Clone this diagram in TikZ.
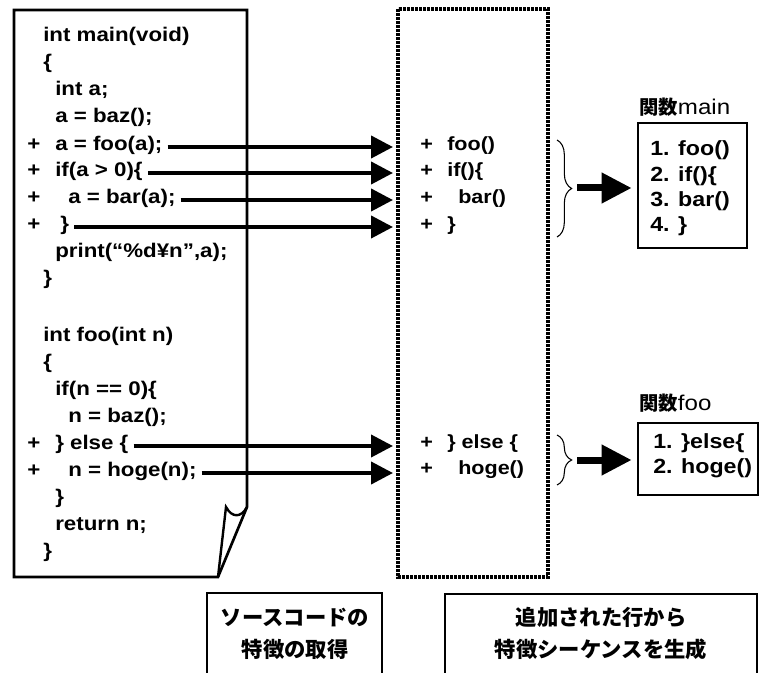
\documentclass[tikz,border=0pt]{standalone}
\usepackage{fontspec}
\setmainfont{Liberation Sans}
\newfontfamily\codefont{Liberation Sans}[FakeStretch=1.13]
\newfontfamily\cjk{Noto Sans CJK JP}
\usetikzlibrary{arrows.meta,decorations.pathreplacing}
\tikzset{
  code/.style={font={\codefont\bfseries\fontsize{14.8pt}{17pt}\selectfont}, anchor=west, inner sep=0pt, text height=0.72em, text depth=0.2em},
  mid/.style={font={\codefont\bfseries\fontsize{14.3pt}{17pt}\selectfont}, anchor=west, inner sep=0pt, text height=0.72em, text depth=0.2em},
  boxtext/.style={font={\codefont\bfseries\fontsize{15.4pt}{18pt}\selectfont}, anchor=west, inner sep=0pt, text height=0.72em, text depth=0.2em},
  lab/.style={font={\fontsize{14.5pt}{17pt}\selectfont}, anchor=west, inner sep=0pt},
  seqbox/.style={draw, line width=2pt, inner sep=0pt},
  doc/.style={draw, line width=2pt, line join=miter},
  dotbox/.style={draw, line width=2.5pt, dash pattern=on 2pt off 1pt},
  arr/.style={line width=3pt, -{Triangle[length=16.5pt,width=16.5pt]}},
  bigarr/.style={line width=5.25pt, -{Triangle[length=22.5pt,width=21.75pt]}},
  bracestyle/.style={draw, line width=0.8pt, decorate, decoration={brace, amplitude=11pt}},
  bottombox/.style={draw, line width=1.1pt},
  bottomtext/.style={font={\cjk\bfseries\fontsize{16pt}{24pt}\selectfont}, align=center, inner sep=0pt},
}
\begin{document}
\begin{tikzpicture}[x=0.75pt, y=-0.75pt]
\useasboundingbox (0,0) rectangle (760,673);

% document with folded corner
\draw[doc] (14,10) -- (247,10) -- (247,507) -- (218,577) -- (14,577) -- cycle;
\draw[doc, line width=1.8pt] (247,507) .. controls (241,518) and (232,518) .. (226,507) -- (218,577);

% code lines
\node[code] (m1) at (43,38) {int main(void)};
\node[code] (m2) at (43,65) {\{};
\node[code] (m3) at (55,92) {int a;};
\node[code] (m4) at (55,119) {a = baz();};
\node[code] (m5) at (55,147) {a = foo(a);};
\node[code] (m6) at (55,173) {if(a > 0)\{};
\node[code] (m7) at (68,200) {a = bar(a);};
\node[code] (m8) at (60,227) {\}};
\node[code] (m9) at (55,254) {print(“\%d¥n”,a);};
\node[code] (m10) at (43,281) {\}};
\node[code] (f1) at (43,338) {int foo(int n)};
\node[code] (f2) at (43,365) {\{};
\node[code] (f3) at (55,392) {if(n == 0)\{};
\node[code] (f4) at (68,419) {n = baz();};
\node[code] (f5) at (55,446) {\} else \{};
\node[code] (f6) at (68,473) {n = hoge(n);};
\node[code] (f7) at (55,500) {\}};
\node[code] (f8) at (55,527) {return n;};
\node[code] (f9) at (43,554) {\}};
\node[code] (pm5) at (27,147) {+};
\node[code] (pm6) at (27,173) {+};
\node[code] (pm7) at (27,200) {+};
\node[code] (pm8) at (27,227) {+};
\node[code] (pf5) at (27,446) {+};
\node[code] (pf6) at (27,473) {+};

% dotted box
\draw[dotbox] (398,9) rectangle (548,577);
\coordinate (dL) at (393,0);

% middle texts
\node[mid] (cp1) at (420,147) {+};
\node[mid] (c1) at (447,147) {foo()};
\node[mid] (cp2) at (420,173) {+};
\node[mid] (c2) at (447,173) {if()\{};
\node[mid] (cp3) at (420,200) {+};
\node[mid] (c3) at (458,200) {bar()};
\node[mid] (cp4) at (420,227) {+};
\node[mid] (c4) at (447,227) {\}};
\node[mid] (cp5) at (420,445) {+};
\node[mid] (c5) at (447,445) {\} else \{};
\node[mid] (cp6) at (420,471) {+};
\node[mid] (c6) at (458,471) {hoge()};

% arrows from code to dotted box
\foreach \n in {m5,m6,m7,m8,f5,f6}{
  \draw[arr] ([xshift=3.75pt]\n.east) -- (\n.east -| dL);
}

% braces
\draw[bracestyle] (557,140) -- (557,237);
\draw[bracestyle] (557,435) -- (557,485);
\coordinate (b1) at (577,188);
\coordinate (b2) at (577,460);

% result boxes
\node[lab] (lb1) at (639,107) {{\cjk\bfseries 関数}{\codefont\fontsize{16pt}{17pt}\selectfont main}};
\node[seqbox, minimum width=81.75pt, minimum height=93.75pt] (mbox) at (692.5,185.5) {};
\node[boxtext] (s1) at (650,152) {1. foo()};
\node[boxtext] (s2) at (650,178) {2. if()\{};
\node[boxtext] (s3) at (650,203) {3. bar()};
\node[boxtext] (s4) at (650,228) {4. \}};

\node[lab] (lb2) at (639,403) {{\cjk\bfseries 関数}{\codefont\fontsize{16pt}{17pt}\selectfont foo}};
\node[seqbox, minimum width=90pt, minimum height=54pt] (fbox) at (698,459) {};
\node[boxtext] (t1) at (653,445) {1. \}else\{};
\node[boxtext] (t2) at (653,470) {2. hoge()};

\draw[bigarr] (b1) -- ([xshift=-3.75pt]b1 -| mbox.west);
\draw[bigarr] (b2) -- ([xshift=-3.75pt]b2 -| fbox.west);

% bottom boxes
\draw[bottombox] (207,690) -- (207,593) -- (382,593) -- (382,690);
\draw[bottombox] (445,690) -- (445,594) -- (757,594) -- (757,690);
\node[bottomtext] (bt1) at (295,634) {ソースコードの\\特徴の取得};
\node[bottomtext] (bt2) at (601,634) {追加された行から\\特徴シーケンスを生成};
\end{tikzpicture}
\end{document}
